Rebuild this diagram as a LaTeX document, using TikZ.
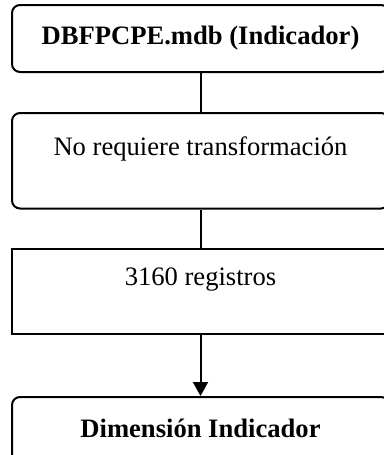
\documentclass[tikz,border=0pt]{standalone}
\usepackage{fontspec}
\setmainfont{Liberation Serif}
\usetikzlibrary{arrows.meta, positioning}

\tikzset{
box/.style={draw, line width=1pt, minimum width=188.5pt, inner sep=0pt, align=center, font=\fontsize{13.3}{15}\selectfont},
rbox/.style={box, rounded corners=4pt},
}

\begin{document}
\begin{tikzpicture}
\useasboundingbox (0,0) rectangle (192pt,-227.5pt);
\clip (0,0) rectangle (192pt,-227.5pt);

%%%%%%%%%% boxes
\node[rbox, minimum height=33.5pt] (src) at (100.25pt,-19.25pt) {\textbf{DBFPCPE.mdb (Indicador)}};
\node[rbox, minimum height=47.75pt, below=19.5pt of src] (trans) {No requiere transformación\\\mbox{}};
\node[box, minimum height=42.5pt, below=19.25pt of trans] (recs) {3160 registros\\\mbox{}};
\node[rbox, minimum height=46pt, below=30.5pt of recs] (dim) {\textbf{Dimensión Indicador}\\\mbox{}};

%%%%%%%%%% connectors
\draw[line width=1pt] (src) -- (trans);
\draw[line width=1pt] (trans) -- (recs);
\draw[line width=1pt, -{Triangle[width=7.5pt,length=7pt]}] (recs) -- (dim);
\end{tikzpicture}
\end{document}
